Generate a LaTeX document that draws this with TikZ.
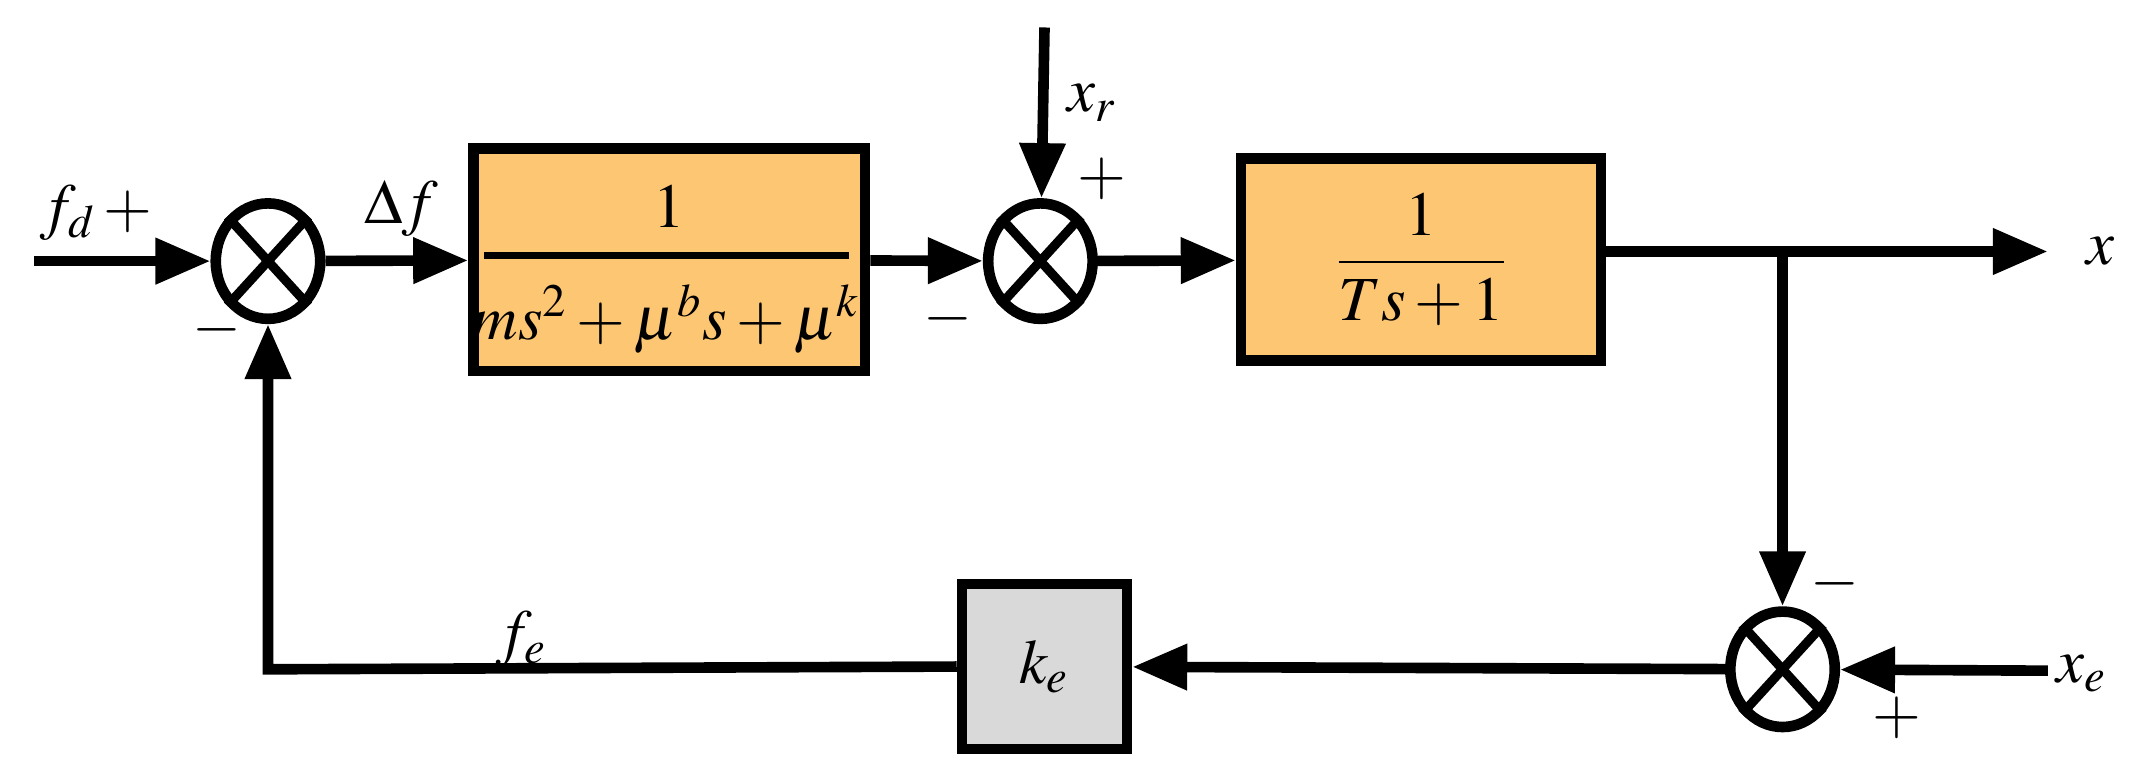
\documentclass[tikz,border=0pt]{standalone}
\usepackage{mathptmx}
\usetikzlibrary{arrows.meta,positioning,shapes.geometric}
\definecolor{blockorange}{RGB}{253,198,115}
\definecolor{blockgray}{RGB}{217,217,217}
\tikzset{
	block/.style={draw, line width=2.2pt, inner sep=0pt},
	sum/.style={draw, ellipse, line width=2.2pt, minimum width=7.6mm, minimum height=8.4mm, inner sep=0pt},
	sig/.style={line width=2.2pt, -{Triangle[length=4mm,width=3.2mm]}},
	lbl/.style={font=\fontsize{13}{16}\selectfont}
}
\newcommand{\crosssum}[1]{
	\draw[line width=1.9pt] (#1.north west) -- (#1.south east);
	\draw[line width=1.9pt] (#1.north east) -- (#1.south west);
}
\begin{document}
\begin{tikzpicture}[x=0.1mm,y=-0.1mm]
	\useasboundingbox (0,0) rectangle (1568,566);
	% summing junctions
	\node[sum] (sum1) at (195,190) {};
	\node[sum] (sum2) at (757,190) {};
	\node[sum] (sum3) at (1297,487) {};
	\crosssum{sum1}
	\crosssum{sum2}
	\crosssum{sum3}
	% blocks
	\node[block, fill=blockorange, minimum width=28.5mm, minimum height=16.2mm] (plant) at (487,189) {};
	\draw[line width=1.3pt] (352,186) -- (618,186);
	\node[lbl] at (487,150) {$1$};
	\node[lbl] at (485,232) {$ms^2+\mu^b s+\mu^k$};
	\node[block, fill=blockorange, minimum width=26.2mm, minimum height=14.7mm, lbl] (filt) at (1034,189) {$\displaystyle\frac{1}{Ts+1}$};
	\node[block, fill=blockgray, minimum width=12mm, minimum height=12mm, lbl] (gain) at (760,485) {$k_e$};
	% terminals
	\coordinate (fd) at (25,190);
	\coordinate (xr) at (760,20);
	\coordinate (xout) at (1490,183);
	\coordinate (xe) at (1490,488);
	\coordinate (branch) at (1297,183);
	\coordinate (corner) at (195,487);
	% connectors
	\draw[sig] (fd) -- (sum1);
	\draw[sig] (sum1) -- (plant);
	\draw[sig] (plant) -- (sum2);
	\draw[sig] (xr) -- (sum2);
	\draw[sig] (sum2) -- (filt);
	\draw[sig] (filt.east |- xout) -- (xout);
	\draw[sig] (branch) -- (sum3);
	\draw[sig] (xe) -- (sum3);
	\draw[sig] (sum3) -- (gain);
	\draw[sig] (gain.west) -- (corner) -- (sum1);
	% labels
	\node[lbl] at (70,155) {$f_d\,+$};
	\node[lbl] at (292,152) {$\Delta f$};
	\node[lbl] at (690,232) {$-$};
	\node[lbl] at (795,75) {$x_r$};
	\node[lbl] at (802,130) {$+$};
	\node[lbl] at (1528,183) {$x$};
	\node[lbl] at (1335,425) {$-$};
	\node[lbl] at (1380,522) {$+$};
	\node[lbl] at (1515,490) {$x_e$};
	\node[lbl] at (380,465) {$f_e$};
	\node[lbl] at (158,240) {$-$};
\end{tikzpicture}
\end{document}
